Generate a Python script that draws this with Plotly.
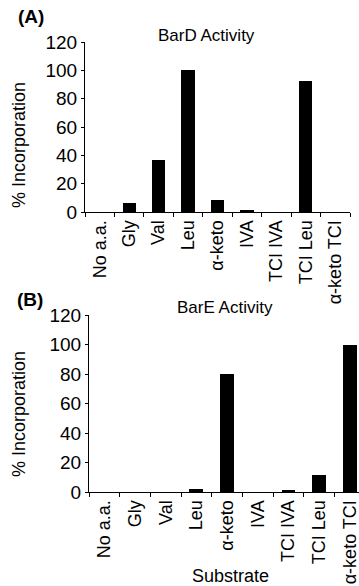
import plotly.graph_objects as go

categories = ["No a.a.", "Gly", "Val", "Leu", "α-keto", "IVA", "TCI IVA", "TCI Leu", "α-keto TCI"]
bard_values = [0, 6.3, 36.5, 100, 8.5, 1.5, 0, 92.5, 0]
bare_values = [0, 0, 0, 2, 80, 0, 1.5, 11.5, 100]
y_ticks = [0, 20, 40, 60, 80, 100, 120]

W, H = 359, 586
FONT = "Liberation Sans, Arial, sans-serif"

def px_x(p):
    return p / W

def px_y(p):
    return 1 - p / H

fig = go.Figure()
fig.add_trace(go.Bar(x=categories, y=bard_values, marker_color="black",
                     marker_line_width=0, width=0.45, xaxis="x", yaxis="y",
                     showlegend=False))
fig.add_trace(go.Bar(x=categories, y=bare_values, marker_color="black",
                     marker_line_width=0, width=0.45, xaxis="x2", yaxis="y2",
                     showlegend=False))

xcommon = dict(type="category", tickangle=-90, showline=True, linecolor="black",
               linewidth=1, ticks="outside", tickson="boundaries", ticklen=4,
               tickcolor="black", showgrid=False, zeroline=False, automargin=False,
               tickfont=dict(family=FONT, size=18, color="black"), fixedrange=True)
ycommon = dict(range=[0, 120], tickvals=y_ticks, showline=True, linecolor="black",
               linewidth=1, ticks="outside", ticklen=3, tickcolor="black",
               showgrid=False, zeroline=False, automargin=False,
               tickfont=dict(family=FONT, size=19, color="black"))

fig.update_layout(
    width=W, height=H, autosize=False,
    margin=dict(l=0, r=0, t=0, b=0, pad=0),
    paper_bgcolor="white", plot_bgcolor="white",
    bargap=0,
    xaxis=dict(domain=[px_x(85), px_x(350)], range=[-0.5, 8.5], anchor="y", **xcommon),
    yaxis=dict(domain=[px_y(212), px_y(42)], anchor="x", **ycommon),
    xaxis2=dict(domain=[px_x(89), 1], range=[-0.5, 8.3], anchor="y2", **xcommon),
    yaxis2=dict(domain=[px_y(492), px_y(315)], anchor="x2", **ycommon),
)

def ann(text, x, y, size=16, bold=False, angle=0):
    fig.add_annotation(text=f"<b>{text}</b>" if bold else text,
                       x=px_x(x), y=px_y(y), xref="paper", yref="paper",
                       showarrow=False, textangle=angle, xanchor="center", yanchor="middle",
                       font=dict(family=FONT, size=size, color="black"))

ann("(A)", 31, 17, size=19, bold=True)
ann("(B)", 30, 299, size=19, bold=True)
ann("BarD Activity", 206, 35, size=17)
ann("BarE Activity", 225, 307, size=17)
ann("% Incorporation", 19, 145, size=18, angle=-90)
ann("% Incorporation", 19, 414, size=18, angle=-90)
ann("Substrate", 230, 576, size=18)

fig.write_html("out.html", config={"displayModeBar": False},
               post_script="document.body.style.margin='0';document.body.style.overflow='hidden';")
